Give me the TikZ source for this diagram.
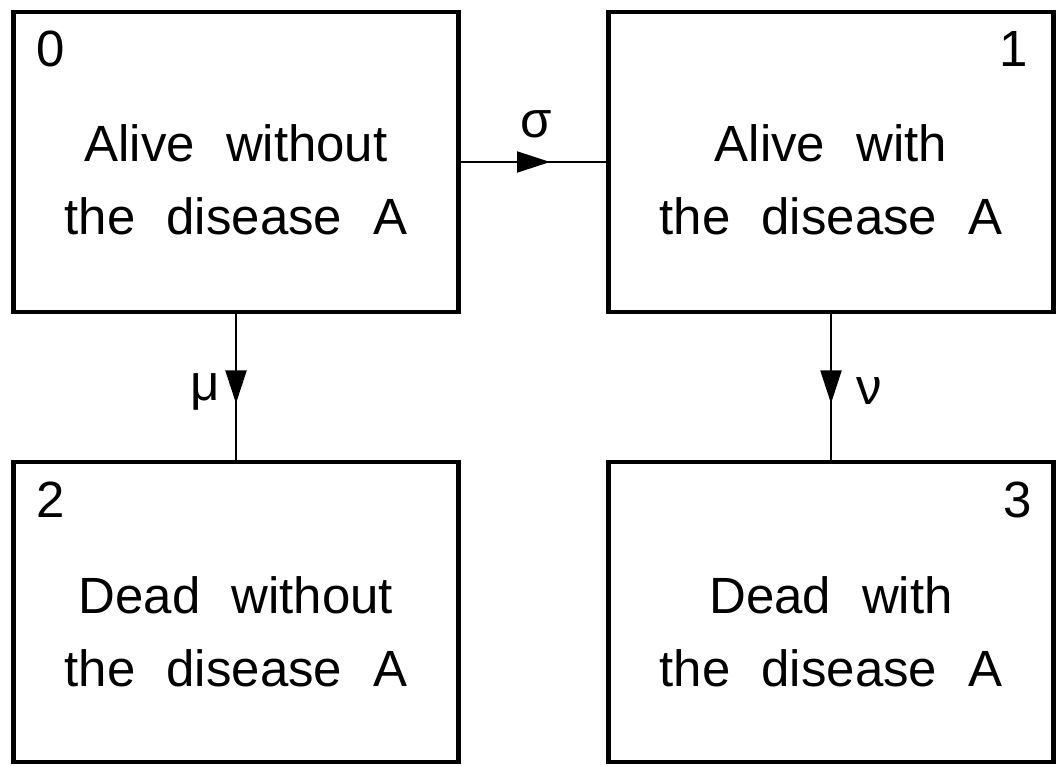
\documentclass[tikz,border=0pt]{standalone}
\usepackage{fontspec}
\setmainfont{Liberation Sans}
\newfontfamily\statefont{Liberation Sans}[WordSpace=2.2]
\usetikzlibrary{arrows.meta,decorations.markings,positioning}
\tikzset{%
	state/.style     = {draw, line width=2.8pt, minimum width=8.9cm, minimum height=6cm, outer sep=0pt},
	statetext/.style = {align=center, inner sep=0pt, font=\statefont\fontsize{29}{41.5}\selectfont},
	statenum/.style  = {inner sep=0pt, font=\fontsize{29}{35}\selectfont},
	rate/.style      = {inner sep=0pt, font=\fontsize{29}{35}\selectfont},
	flow/.style      = {line width=1.1pt, postaction={decorate}, decoration={markings, mark=at position 0.61 with {\arrow{Triangle[length=6.6mm,width=4.2mm]}}}},
}
\begin{document}
\begin{tikzpicture}
	\useasboundingbox (0,0) rectangle (21.2,15.3);
	
	\node[state] (alive0) at (4.72,12.06) {};
	\node[state, right=3cm of alive0] (alive1) {};
	\node[state, below=3cm of alive0] (dead2) {};
	\node[state, below=3cm of alive1] (dead3) {};
	
	\node[statenum, anchor=base west] (n0) at ([shift={(0.45,-1.1)}]alive0.north west) {0};
	\node[statenum, anchor=base east] (n1) at ([shift={(-0.5,-1.1)}]alive1.north east) {1};
	\node[statenum, anchor=base west] (n2) at ([shift={(0.45,-1.1)}]dead2.north west) {2};
	\node[statenum, anchor=base east] (n3) at ([shift={(-0.42,-1.1)}]dead3.north east) {3};
	
	\node[statetext] (t0) at ([yshift=-0.36cm]alive0.center) {Alive without\\the disease A};
	\node[statetext] (t1) at ([yshift=-0.36cm]alive1.center) {Alive with\\the disease A};
	\node[statetext] (t2) at ([yshift=-0.4cm]dead2.center) {Dead without\\the disease A};
	\node[statetext] (t3) at ([yshift=-0.4cm]dead3.center) {Dead with\\the disease A};
	
	\draw[flow] (alive0.east) -- node[rate, pos=0.52, above=0.46cm] (sigma) {σ} (alive1.west);
	\draw[flow] (alive0.south) -- node[rate, pos=0.53, left=0.3cm] (mu) {μ} (dead2.north);
	\draw[flow] (alive1.south) -- node[rate, pos=0.53, right=0.5cm] (nu) {ν} (dead3.north);
\end{tikzpicture}
\end{document}
